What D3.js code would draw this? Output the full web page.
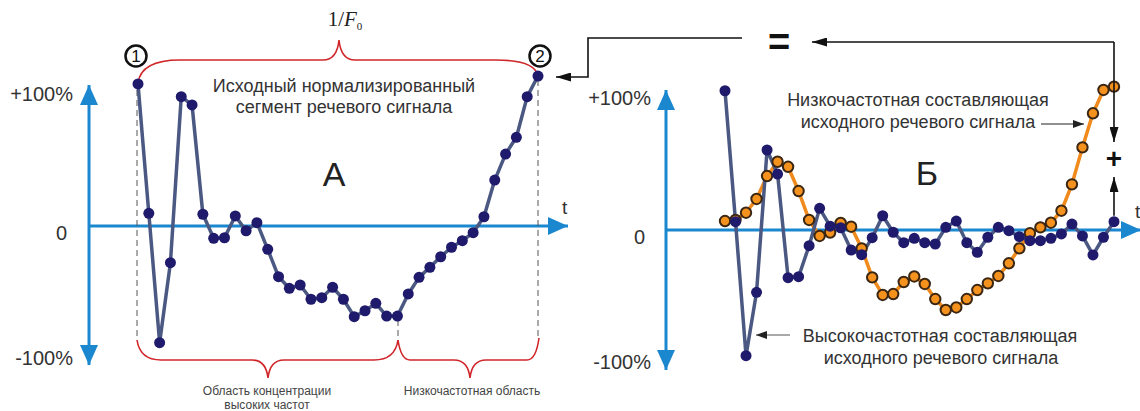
<!DOCTYPE html>
<html>
<head>
<meta charset="utf-8">
<script src="https://cdn.jsdelivr.net/npm/d3@7"></script>
<style>
  body { margin: 0; background: #fff; }
  svg { display: block; font-family: "Liberation Sans", Arial, sans-serif; }
</style>
</head>
<body>
<div id="chart"></div>
<script>
// normalized segment (panel A), percent of max amplitude
const signalA = [107.6, 9.6, -88.4, -27.8, 98, 91.7, 8.9, -9.3, -8.9, 7.6, -3.6, 2.5, -17.7,
    -38.4, -47.2, -44.7, -55.5, -54.3, -46.4, -55.5, -68.7, -64.2, -58.6, -68.2, -68.2, -51.5,
    -38.9, -31.3, -23.3, -16.1, -11.1, -5.1, 7, 34.8, 54.5, 67.2, 98, 113.6];

// panel B: high-frequency component
const highFreqB = [105.5, 6.3, -95.2, -47.2, 60.6, 42.4, -36.1, -35.4, -11.9, 16.4, 2.9, 1.7, -15.2,
    -18.7, -5.8, 10.8, -1.7, -9.6, -6.3, -9.6, -10.6, 2.0, 6.8, -9.6, -16.9, -5.5,
    2.0, -0.5, -5.1, -8.1, -8.1, -6.3, -3.0, 4.5, -4.5, -18.9, -5.5, 6.3];

// panel B: low-frequency component
const lowFreqB = [6.8, 7.6, 13.1, 23.5, 40.9, 51.7, 47.9, 29.5, 7.6, -4.5, -1.9, 5.3, 2.5,
    -13.9, -35.9, -49.2, -48.5, -39.4, -35.2, -40.9, -52.3, -60.6, -58.7, -52.3, -45.5, -40.4,
    -34.8, -25.2, -13.9, -2.5, 2.0, 5.5, 14.6, 34.6, 62.6, 88.4, 106.1, 108.6];

const tickValues = [100, 0, -100];
const tickLabels = ["+100%", "0", "-100%"];

const width = 1140;
const height = 411;

const axisBlue = "#1b87cf";
const lineBlue = "#4a5882";
const dotBlue = "#1f1a6b";
const orange = "#f08a1c";
const red = "#d0262a";
const ink = "#333";

const svg = d3.select("#chart").append("svg")
    .attr("width", width)
    .attr("height", height);

const defs = svg.append("defs");
function marker(id, len, half, color) {
    defs.append("marker")
        .attr("id", id)
        .attr("markerUnits", "userSpaceOnUse")
        .attr("markerWidth", len)
        .attr("markerHeight", half * 2)
        .attr("refX", len)
        .attr("refY", half)
        .attr("orient", "auto")
        .append("path")
        .attr("d", `M0,0 L${len},${half} L0,${half * 2} Z`)
        .attr("fill", color);
}
marker("arrBlue", 20, 9, axisBlue);
marker("arrBlack", 15, 4.5, "#111");
marker("arrSmall", 11, 4, "#222");

const xA = d3.scaleLinear().domain([0, signalA.length - 1]).range([138, 538]);
const yA = d3.scaleLinear().domain([-100, 100]).range([358, 94]);
const xB = d3.scaleLinear().domain([0, highFreqB.length - 1]).range([725, 1114]);
const yB = d3.scaleLinear().domain([-100, 100]).range([362, 98]);

// curly brace between two points, tip at xm
function brace(x1, y1, x2, y2, xm, ym, yt, w) {
    return `M${x1},${y1} Q${x1 + 3},${ym} ${x1 + w},${ym} L${xm - 16},${ym} ` +
        `Q${xm - 2},${ym} ${xm},${yt} Q${xm + 2},${ym} ${xm + 16},${ym} ` +
        `L${x2 - w},${ym} Q${x2 - 3},${ym} ${x2},${y2}`;
}

function drawAxes(g, x0, y0, xEnd, yTop, yBottom, y, pad) {
    g.append("line")
        .attr("x1", x0).attr("y1", y0).attr("x2", x0).attr("y2", yTop)
        .attr("stroke", axisBlue).attr("stroke-width", 3)
        .attr("marker-end", "url(#arrBlue)");
    g.append("line")
        .attr("x1", x0).attr("y1", y0).attr("x2", x0).attr("y2", yBottom)
        .attr("stroke", axisBlue).attr("stroke-width", 3)
        .attr("marker-end", "url(#arrBlue)");
    g.append("line")
        .attr("x1", x0).attr("y1", y0).attr("x2", xEnd).attr("y2", y0)
        .attr("stroke", axisBlue).attr("stroke-width", 3)
        .attr("marker-end", "url(#arrBlue)");

    const ax = g.append("g")
        .attr("transform", `translate(${x0},0)`)
        .call(d3.axisLeft(y).tickValues(tickValues)
            .tickFormat((d, i) => tickLabels[i]).tickSize(0).tickPadding(pad));
    ax.select(".domain").remove();
    ax.selectAll("text")
        .attr("fill", ink)
        .style("font-size", "20px")
        .style("font-family", "Liberation Sans, Arial, sans-serif");
    ax.selectAll("text").filter(d => d === 0)
        .attr("dy", "0.65em")
        .attr("dx", "-6");

    g.append("text")
        .attr("x", xEnd - 6).attr("y", y0 - 12)
        .attr("fill", ink).style("font-size", "19px")
        .text("t");
}

// ---------- panel A ----------
const gA = svg.append("g");

drawAxes(gA, 89, yA(0), 568, 85, 365, yA, 16);

// dashed period bounds
[[137, 90, 340], [538, 80, 338], [398, 320, 340]].forEach(([x, y1, y2]) => {
    gA.append("line")
        .attr("x1", x).attr("y1", y1).attr("x2", x).attr("y2", y2)
        .attr("stroke", "#555").attr("stroke-width", 1)
        .attr("stroke-dasharray", "6,4");
});

gA.append("path")
    .attr("d", brace(138, 83, 538, 76, 339, 60, 40, 42))
    .attr("fill", "none").attr("stroke", red).attr("stroke-width", 1.6);
gA.append("path")
    .attr("d", brace(137, 340, 398, 340, 268, 360, 378, 24))
    .attr("fill", "none").attr("stroke", red).attr("stroke-width", 1.6);
gA.append("path")
    .attr("d", brace(398, 340, 539, 338, 470, 360, 378, 12))
    .attr("fill", "none").attr("stroke", red).attr("stroke-width", 1.6);

const f0 = gA.append("text")
    .attr("x", 345).attr("y", 26)
    .attr("text-anchor", "middle")
    .attr("fill", "#222")
    .style("font-family", "Liberation Serif, DejaVu Serif, serif")
    .style("font-size", "21px");
f0.append("tspan").text("1/");
f0.append("tspan").style("font-style", "italic").text("F");
f0.append("tspan").attr("dy", 4).style("font-size", "11px").text("0");

[[136, 56, "1"], [540, 56, "2"]].forEach(([cx, cy, label]) => {
    gA.append("circle")
        .attr("cx", cx).attr("cy", cy).attr("r", 10.5)
        .attr("fill", "#fff").attr("stroke", "#111").attr("stroke-width", 2.5);
    gA.append("text")
        .attr("x", cx).attr("y", cy + 6)
        .attr("text-anchor", "middle")
        .attr("fill", "#111")
        .style("font-size", "17px")
        .text(label);
});

gA.append("text")
    .attr("x", 344).attr("y", 92)
    .attr("text-anchor", "middle").attr("fill", ink)
    .style("font-size", "18px")
    .text("Исходный нормализированный");
gA.append("text")
    .attr("x", 344).attr("y", 113)
    .attr("text-anchor", "middle").attr("fill", ink)
    .style("font-size", "18px")
    .text("сегмент речевого сигнала");

gA.append("text")
    .attr("x", 334).attr("y", 186)
    .attr("text-anchor", "middle").attr("fill", "#222")
    .style("font-size", "34px")
    .text("А");

gA.append("text")
    .attr("x", 267).attr("y", 395)
    .attr("text-anchor", "middle").attr("fill", "#444")
    .style("font-size", "12px")
    .text("Область концентрации");
gA.append("text")
    .attr("x", 267).attr("y", 409)
    .attr("text-anchor", "middle").attr("fill", "#444")
    .style("font-size", "12px")
    .text("высоких частот");
gA.append("text")
    .attr("x", 472).attr("y", 395)
    .attr("text-anchor", "middle").attr("fill", "#444")
    .style("font-size", "12px")
    .text("Низкочастотная область");

const lineA = d3.line().x((d, i) => xA(i)).y(d => yA(d));
gA.append("path")
    .datum(signalA)
    .attr("d", lineA)
    .attr("fill", "none")
    .attr("stroke", lineBlue)
    .attr("stroke-width", 3.5)
    .attr("stroke-linejoin", "round");
gA.selectAll("circle.pt")
    .data(signalA)
    .enter()
    .append("circle")
    .attr("class", "pt")
    .attr("cx", (d, i) => xA(i))
    .attr("cy", d => yA(d))
    .attr("r", 5.5)
    .attr("fill", dotBlue);

// ---------- panel B ----------
const gB = svg.append("g");

drawAxes(gB, 666, yB(0), 1141, 90, 370, yB, 15);

gB.append("text")
    .attr("x", 927).attr("y", 185)
    .attr("text-anchor", "middle").attr("fill", "#222")
    .style("font-size", "34px")
    .text("Б");

gB.append("text")
    .attr("x", 918).attr("y", 106)
    .attr("text-anchor", "middle").attr("fill", ink)
    .style("font-size", "18px")
    .text("Низкочастотная составляющая");
gB.append("text")
    .attr("x", 918).attr("y", 128)
    .attr("text-anchor", "middle").attr("fill", ink)
    .style("font-size", "18px")
    .text("исходного речевого сигнала");
gB.append("line")
    .attr("x1", 1041).attr("y1", 124).attr("x2", 1084).attr("y2", 124)
    .attr("stroke", "#222").attr("stroke-width", 1)
    .attr("marker-end", "url(#arrSmall)");

gB.append("text")
    .attr("x", 940).attr("y", 342)
    .attr("text-anchor", "middle").attr("fill", ink)
    .style("font-size", "18px")
    .text("Высокочастотная составляющая");
gB.append("text")
    .attr("x", 941).attr("y", 364)
    .attr("text-anchor", "middle").attr("fill", ink)
    .style("font-size", "18px")
    .text("исходного речевого сигнала");
gB.append("line")
    .attr("x1", 790).attr("y1", 335).attr("x2", 756).attr("y2", 335)
    .attr("stroke", "#555").attr("stroke-width", 1)
    .attr("marker-end", "url(#arrSmall)");

const lineB = d3.line().x((d, i) => xB(i));
gB.append("path")
    .datum(lowFreqB)
    .attr("d", lineB.y(d => yB(d)))
    .attr("fill", "none")
    .attr("stroke", orange)
    .attr("stroke-width", 3.5)
    .attr("stroke-linejoin", "round");
gB.append("path")
    .datum(highFreqB)
    .attr("d", lineB.y(d => yB(d)))
    .attr("fill", "none")
    .attr("stroke", lineBlue)
    .attr("stroke-width", 3.5)
    .attr("stroke-linejoin", "round");

gB.selectAll("circle.low")
    .data(lowFreqB)
    .enter()
    .append("circle")
    .attr("class", "low")
    .attr("cx", (d, i) => xB(i))
    .attr("cy", d => yB(d))
    .attr("r", 5.2)
    .attr("fill", "#f5921e")
    .attr("stroke", "#3a2612")
    .attr("stroke-width", 2);
gB.selectAll("circle.high")
    .data(highFreqB)
    .enter()
    .append("circle")
    .attr("class", "high")
    .attr("cx", (d, i) => xB(i))
    .attr("cy", d => yB(d))
    .attr("r", 5.5)
    .attr("fill", dotBlue);

// ---------- sum connectors ----------
const conn = svg.append("g").attr("fill", "none").attr("stroke", "#111").attr("stroke-width", 1.6);

conn.append("path")
    .attr("d", "M742,38 H588 V77 H556")
    .attr("marker-end", "url(#arrBlack)");
conn.append("path")
    .attr("d", "M1114,42 H812")
    .attr("marker-end", "url(#arrBlack)");
conn.append("path")
    .attr("d", "M1114,42 V142")
    .attr("marker-end", "url(#arrBlack)");
conn.append("path")
    .attr("d", `M1114,${yB(highFreqB[highFreqB.length - 1]) - 6} V177`)
    .attr("marker-end", "url(#arrBlack)");

svg.append("text")
    .attr("x", 779).attr("y", 55)
    .attr("text-anchor", "middle").attr("fill", "#111")
    .style("font-size", "38px").style("font-weight", "bold")
    .text("=");
svg.append("text")
    .attr("x", 1114).attr("y", 168)
    .attr("text-anchor", "middle").attr("fill", "#111")
    .style("font-size", "28px").style("font-weight", "bold")
    .text("+");
</script>
</body>
</html>
